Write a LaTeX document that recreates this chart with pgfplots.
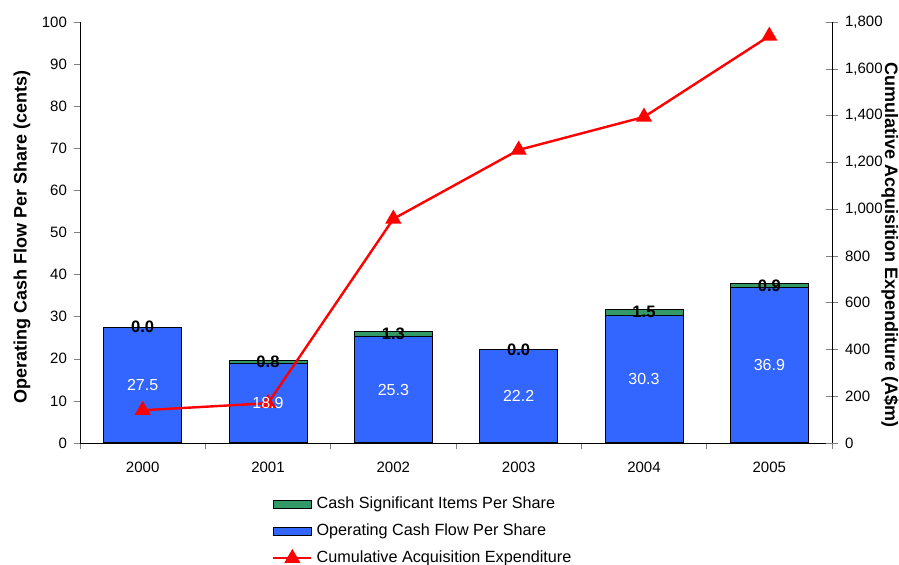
\documentclass[border=0pt]{standalone}
\usepackage{fontspec}
\setmainfont{Liberation Sans}
\usepackage{pgfplots}
\pgfplotsset{compat=1.18}
\definecolor{barblue}{HTML}{3366FF}
\definecolor{bargreen}{HTML}{339966}
\pgfplotsset{
  flatbar legend/.style={legend image code/.code={\draw[##1] (0pt,-2pt) rectangle (19pt,2pt);}},
  shortline legend/.style={legend image code/.code={%
    \draw[##1, mark=none] (0pt,0pt) -- (19pt,0pt);
    \begin{scope}[##1, xshift=9.5pt]\pgfuseplotmark{triangle*}\end{scope}}},
}
\begin{document}
\begin{tikzpicture}
\useasboundingbox (0,0) rectangle (449.5pt,282.5pt);
\pgfplotsset{
  base/.style={
    at={(40pt,61pt)}, anchor=south west,
    width=376pt, height=210.5pt, scale only axis,
    xmin=-0.5, xmax=5.5,
    /pgf/number format/assume math mode=true,
    tick label style={font=\fontsize{7.5}{9}\selectfont},
    label style={font=\bfseries\fontsize{9}{10}\selectfont},
  }
}
\begin{axis}[base,
  ybar stacked, bar width=39pt,
  ymin=0, ymax=100, ytick={0,10,...,100},
  axis x line*=bottom, axis y line*=left,
  xtick={0,...,5}, xticklabels={2000,2001,2002,2003,2004,2005},
  major x tick style={draw=none},
  minor xtick={-0.5,0.5,...,5.5},
  tick align=outside, major tick length=3pt, minor tick length=3pt,
  x tick label style={yshift=-3pt},
  ylabel={Operating Cash Flow Per Share (cents)},
  ylabel style={at={(axis description cs:-0.077,0.489)}, anchor=center},
  legend style={at={(axis description cs:0.255,-0.117)}, anchor=north west,
    draw=none, fill=none, inner sep=0pt, font=\fontsize{8.1}{9.5}\selectfont,
    row sep=2.2pt, cells={anchor=west}},
]
\addplot[fill=barblue, draw=black, line width=0.5pt, forget plot] coordinates {(0,27.5)(1,18.9)(2,25.3)(3,22.2)(4,30.3)(5,36.9)};
\addplot[fill=bargreen, draw=black, line width=0.5pt, forget plot] coordinates {(0,0)(1,0.8)(2,1.3)(3,0)(4,1.5)(5,0.9)};
\addlegendimage{fill=bargreen, draw=black, line width=0.5pt, flatbar legend}
\addlegendentry{Cash Significant Items Per Share}
\addlegendimage{fill=barblue, draw=black, line width=0.5pt, flatbar legend}
\addlegendentry{Operating Cash Flow Per Share}
\addlegendimage{red, fill=red, line width=1.2pt, mark=triangle*, mark size=3.5pt, shortline legend}
\addlegendentry{Cumulative Acquisition Expenditure}
\end{axis}
\begin{axis}[base,
  ymin=0, ymax=1800, ytick={0,200,...,1800},
  axis y line*=right, axis x line=none,
  tick align=center, major tick length=6pt,
  y tick label style={/pgf/number format/1000 sep={,}},
  ylabel={Cumulative Acquisition Expenditure (A\$m)},
  ylabel style={at={(axis description cs:1.077,0.47)}, anchor=center, rotate=180},
]
\addplot[red, line width=1.2pt, mark=triangle*, mark size=3.5pt, mark options={solid}] coordinates {(0,140)(1,170)(2,958)(3,1253)(4,1394)(5,1740)};
\end{axis}
\begin{axis}[base, ymin=0, ymax=100, hide axis]
\addplot[draw=none, mark=none, nodes near coords, point meta=explicit symbolic,
  nodes near coords align=center,
  every node near coord/.append style={white, anchor=center, font=\fontsize{8}{9}\selectfont}]
  coordinates {(0,13.75)[27.5] (1,9.45)[18.9] (2,12.65)[25.3] (3,11.1)[22.2] (4,15.15)[30.3] (5,18.45)[36.9]};
\addplot[draw=none, mark=none, nodes near coords, point meta=explicit symbolic,
  nodes near coords align=center,
  every node near coord/.append style={black, anchor=center, font=\bfseries\fontsize{8.3}{9}\selectfont}]
  coordinates {(0,27.5)[0.0] (1,19.3)[0.8] (2,25.95)[1.3] (3,22.2)[0.0] (4,31.05)[1.5] (5,37.35)[0.9]};
\end{axis}
\end{tikzpicture}
\end{document}
